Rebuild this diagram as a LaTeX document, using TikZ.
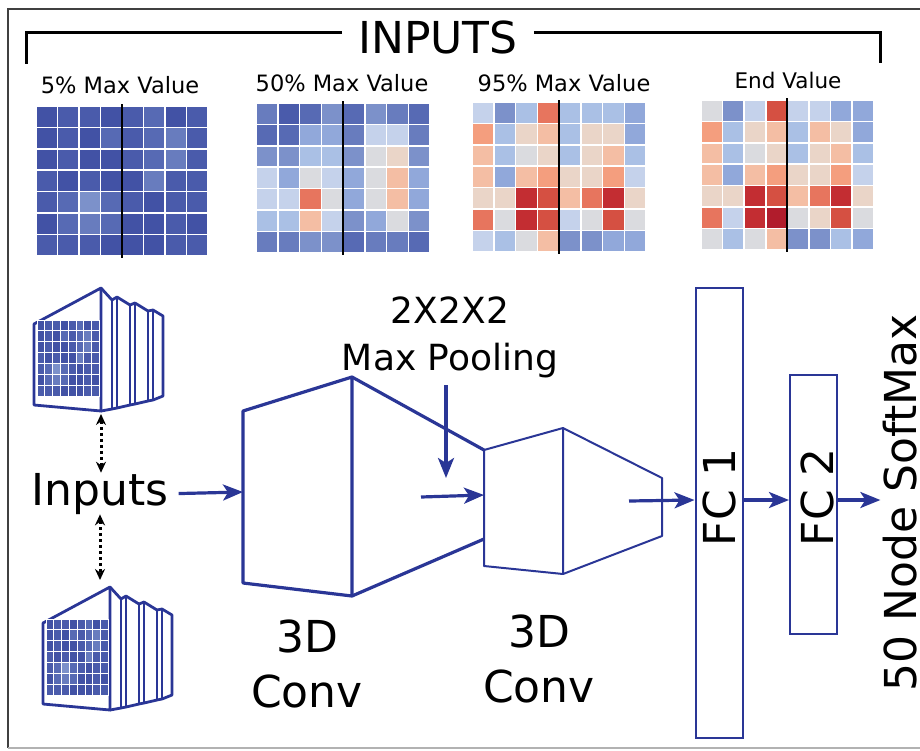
\documentclass[tikz,border=0pt]{standalone}
\usepackage{fontspec}
\setmainfont{DejaVu Sans}
\usetikzlibrary{arrows.meta}

% coolwarm-like palette, 0 = cold ... 15 = hot
\definecolor{hm0}{RGB}{66,82,165}
\definecolor{hm1}{RGB}{74,91,171}
\definecolor{hm2}{RGB}{87,106,180}
\definecolor{hm3}{RGB}{104,124,190}
\definecolor{hm4}{RGB}{124,145,202}
\definecolor{hm5}{RGB}{145,168,218}
\definecolor{hm6}{RGB}{170,192,229}
\definecolor{hm7}{RGB}{197,210,235}
\definecolor{hm8}{RGB}{218,219,223}
\definecolor{hm9}{RGB}{234,213,200}
\definecolor{hm10}{RGB}{244,190,164}
\definecolor{hm11}{RGB}{244,158,126}
\definecolor{hm12}{RGB}{231,117,94}
\definecolor{hm13}{RGB}{213,80,66}
\definecolor{hm14}{RGB}{195,45,50}
\definecolor{hm15}{RGB}{177,28,44}
\definecolor{netblue}{RGB}{42,54,150}

% 7 rows x 8 columns each
\newcommand{\mapfive}{{0,1,1,0,1,2,0,1},{0,1,0,2,1,2,3,1},{0,1,0,0,1,2,3,1},{1,0,1,0,0,3,1,1},{1,2,4,2,1,0,1,1},{0,2,3,2,0,0,1,0},{1,1,1,0,0,0,1,1}}
\newcommand{\mapfifty}{{3,1,2,4,2,4,3,2},{2,2,5,5,3,7,7,3},{4,4,6,6,4,8,9,4},{7,5,8,7,5,8,10,5},{7,7,12,8,5,8,10,5},{6,6,10,7,4,5,8,4},{3,3,4,4,2,3,3,2}}
\newcommand{\mapninetyfive}{{7,4,6,12,6,6,6,5},{11,6,9,10,6,9,9,5},{10,6,8,9,6,9,10,6},{10,5,10,11,9,9,11,7},{9,9,14,13,10,12,14,9},{12,8,14,13,7,8,13,8},{7,6,8,10,4,4,5,5}}
\newcommand{\mapend}{{8,4,7,13,7,7,5,5},{11,6,9,10,6,10,9,5},{10,6,8,9,6,9,10,6},{10,5,10,11,9,9,11,7},{9,9,14,13,10,12,14,9},{12,7,14,15,8,9,13,8},{8,6,8,10,4,4,6,5}}

% heat map: x, y (top left), cell width, cell height, gap, rows
\newcommand{\heatgrid}[6]{%
  \foreach \hrow [count=\hr] in #6 {
    \foreach \v [count=\hc] in \hrow {
      \filldraw[fill=hm\v, draw=white, line width=#5]
        ({#1+(\hc-1)*#3},{#2+(\hr-1)*#4}) rectangle ++(#3,#4);
    }
  }
}

\tikzset{
  slabs/.pic={
    % front face with the map on it
    \draw[netblue, line width=2.8pt, line join=round] (-67,36) -- (0,0) -- (0,123) -- (-67,117) -- cycle;
    \heatgrid{-64}{32}{7.8}{10.85}{0.8pt}{\mapfive}
    % slabs behind
    \draw[netblue, line width=2.8pt, line join=round] (0,0) -- (11,12) -- (16,9) -- (29,17) -- (34,15) -- (47,23) -- (52,22) -- (62,28)
      -- (62,108) -- (52,112) -- (47,113) -- (34,116) -- (29,117) -- (16,120) -- (11,121) -- (0,123);
    \foreach \sx/\st/\sb in {11/12/121, 16/9/120, 29/17/117, 34/15/116, 47/23/113, 52/22/112}
      \draw[netblue, line width=2.8pt] (\sx,\st) -- (\sx,\sb);
  }
}

\begin{document}
\begin{tikzpicture}[x=1pt, y=-1pt,
    flow/.style={draw=netblue, line width=3.2pt, -{Stealth[length=20pt,width=16pt,inset=5pt]}},
    dotarrow/.style={line width=3pt, dash pattern=on 3pt off 3pt, {Stealth[length=11pt,width=10pt]}-{Stealth[length=11pt,width=10pt]}},
    big/.style={font=\fontsize{44}{55}\selectfont, inner sep=0pt},
    title/.style={font=\fontsize{22.5}{27}\selectfont, anchor=base},
    fcbox/.style={draw=netblue, line width=2pt, minimum width=47pt, inner sep=0pt}]
  \useasboundingbox (0,0) rectangle (920,750);
  \draw[black!75, line width=1.3pt] (930,9) -| (8,748);
  \draw[black!30, line width=1.3pt] (8,748) -- (930,748);

  % heading bracket
  \node[big, inner xsep=16pt, anchor=base] (heading) at (438,53) {INPUTS};
  \coordinate (brl) at (26,64);
  \coordinate (brr) at (880,63);
  \coordinate (brow) at (0,32);
  \draw[line width=3pt] (heading.west |- brow) -| (brl);
  \draw[line width=3pt] (heading.east |- brow) -| (brr);

  % the four maps
  \node[title] (t5) at (120,93) {5\% Max Value};
  \node[title] (t50) at (342,91) {50\% Max Value};
  \node[title] (t95) at (564,91) {95\% Max Value};
  \node[title, font=\fontsize{21.5}{26}\selectfont] (tend) at (788,88) {End Value};
  \heatgrid{36}{106}{21.5}{21.4}{1.5pt}{\mapfive}
  \heatgrid{256}{103}{21.75}{21.4}{1.5pt}{\mapfifty}
  \heatgrid{472}{102}{21.75}{21.4}{1.5pt}{\mapninetyfive}
  \heatgrid{701}{100}{21.6}{21.4}{1.5pt}{\mapend}
  \foreach \mx/\my in {122/106, 343/103, 559/102, 787/100}
    \draw[line width=2.2pt] ({\mx},{\my-2}) -- ({\mx},{\my+152});

  % input stacks
  \pic (upper) at (101,288) {slabs};
  \pic (lower) at (110,587) {slabs};
  \node[big, anchor=base, inner xsep=10pt] (inputs) at (100,505) {Inputs};
  \coordinate (upperfoot) at (101,414);
  \coordinate (lowerhead) at (100,580);
  \draw[dotarrow] (upperfoot) -- (upperfoot |- inputs.north);
  \draw[dotarrow] (inputs.south -| lowerhead) -- (lowerhead);

  % first 3D conv
  \coordinate (c1a) at (243,411);
  \coordinate (c1b) at (352,377);
  \coordinate (c1c) at (352,596);
  \coordinate (c1d) at (243,583);
  \coordinate (c1e) at (484,539);
  % second 3D conv
  \coordinate (c2a) at (484,450);
  \coordinate (c2b) at (563,428);
  \coordinate (c2c) at (563,574);
  \coordinate (c2d) at (484,566);
  \coordinate (c2e) at (662,478);
  \coordinate (c2f) at (662,536);
  \draw[netblue, line width=3.2pt, line join=round] (c1a) -- (c1b) -- (c1c) -- (c1d) -- cycle;
  \draw[netblue, line width=3.2pt] (c1b) -- (c2a) (c1c) -- (c1e);
  \draw[netblue, line width=2pt, line join=round] (c2a) -- (c2b) -- (c2c) -- (c2d) -- cycle;
  \draw[netblue, line width=2pt, line join=round] (c2b) -- (c2e) -- (c2f) -- (c2c);
  \node[big, align=center, anchor=north] (conv1) at (307,620) {3D\\Conv};
  \node[big, align=center, anchor=north] (conv2) at (539,615) {3D\\Conv};

  % pooling
  \node[font=\fontsize{36}{47}\selectfont, align=center, anchor=south, inner xsep=0pt, inner ysep=7pt] (pool) at (450,385) {2X2X2\\Max Pooling};
  \coordinate (poolend) at (446,478);
  \draw[flow] (pool.south -| poolend) -- (poolend);

  % fully connected part
  \node[fcbox, minimum height=450pt] (fc1) at (719,513) {};
  \node[fcbox, minimum height=259pt] (fc2) at (813.5,504.5) {};
  \node[big, rotate=90] (fc1text) at (719,497) {FC 1};
  \node[big, rotate=90] (fc2text) at (817,497) {FC 2};
  \node[big, rotate=90, anchor=base, inner sep=2pt] (softmax) at (916,503) {50 Node SoftMax};

  % flow arrows
  \coordinate (c1in) at (243,492);
  \coordinate (poolin) at (421,497);
  \coordinate (c2in) at (484,495);
  \coordinate (c2mid) at (629,501);
  \coordinate (arow) at (0,500);
  \draw[flow] (inputs.east) -- (c1in);
  \draw[flow] (poolin) -- (c2in);
  \draw[flow] (c2mid) -- (fc1.west |- arow);
  \draw[flow] (fc1.east |- arow) -- (fc2.west |- arow);
  \draw[flow] (fc2.east |- arow) -- (softmax.north |- arow);
\end{tikzpicture}
\end{document}
